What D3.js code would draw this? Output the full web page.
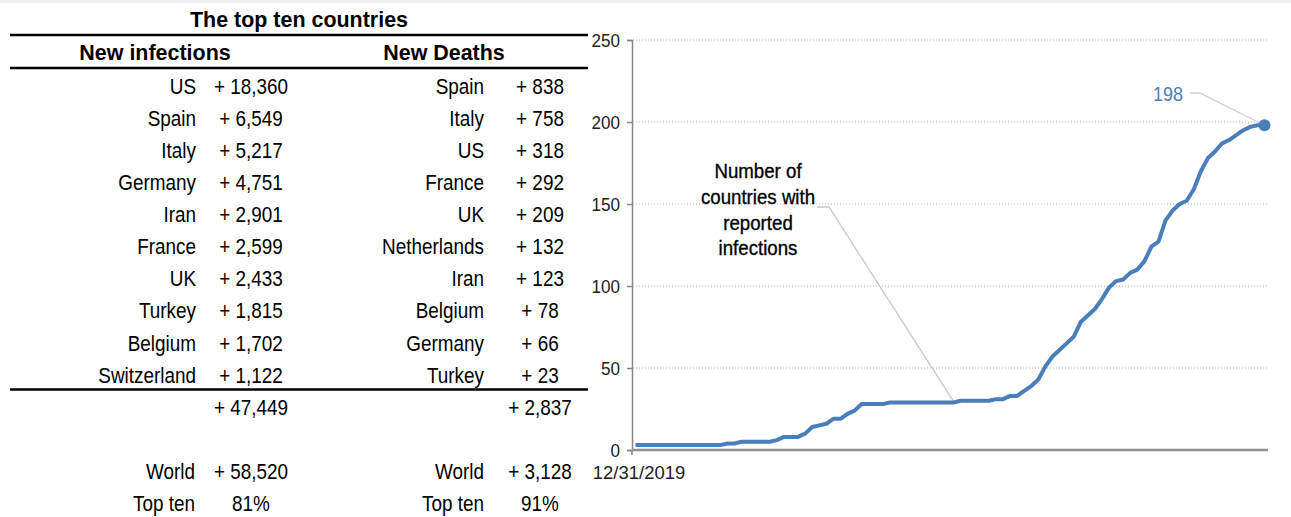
<!DOCTYPE html>
<html>
<head>
<meta charset="utf-8">
<script src="https://cdn.jsdelivr.net/npm/d3@7"></script>
<style>
  body { margin: 0; background: #fff; }
  svg { display: block; font-family: "Liberation Sans", Arial, sans-serif; }
</style>
</head>
<body>
<script>
// top ten countries, new infections
var infCountries = ["US", "Spain", "Italy", "Germany", "Iran", "France", "UK", "Turkey", "Belgium", "Switzerland"];
var infValues = [18360, 6549, 5217, 4751, 2901, 2599, 2433, 1815, 1702, 1122];
var infWorld = 58520;

// top ten countries, new deaths
var deathCountries = ["Spain", "Italy", "US", "France", "UK", "Netherlands", "Iran", "Belgium", "Germany", "Turkey"];
var deathValues = [838, 758, 318, 292, 209, 132, 123, 78, 66, 23];
var deathWorld = 3128;

// number of countries with reported infections, daily from 12/31/2019
var startDate = "12/31/2019";
var countries = [3, 3, 3, 3, 3, 3, 3, 3, 3, 3, 3, 3, 3, 4, 4, 5, 5, 5, 5, 5,
  6, 8, 8, 8, 10, 14, 15, 16, 19, 19, 22, 24, 28, 28, 28, 28, 29, 29, 29, 29,
  29, 29, 29, 29, 29, 29, 30, 30, 30, 30, 30, 31, 31, 33, 33, 36, 39, 43, 51, 57,
  61, 65, 69, 78, 82, 86, 92, 99, 103, 104, 108, 110, 115, 124, 127, 140, 146, 150, 152, 159,
  170, 178, 182, 187, 189, 192, 195, 197, 198, 198];
var yTicks = [0, 50, 100, 150, 200, 250];

var W = 1291, H = 517;
var blue = "#4a7ebb";
var NARROW = 0.86; // squeeze to look like Arial Narrow

var svg = d3.select("body").append("svg")
    .attr("width", W).attr("height", H);

// thin grey strip on top
svg.append("rect").attr("x", 0).attr("y", 0).attr("width", W).attr("height", 3).attr("fill", "#efefef");

// text helper: squeezed horizontally around its anchor point
function label(parent, str, x, y, anchor, size, sx, bold) {
    return parent.append("text").text(str)
        .attr("transform", "translate(" + x + "," + y + ") scale(" + sx + ",1)")
        .attr("dy", "0.35em")
        .attr("text-anchor", anchor)
        .attr("font-size", size)
        .attr("font-weight", bold ? "bold" : null);
}

//---------------- table ----------------
var fmt = d3.format(",");
function plus(v) { return "+ " + fmt(v); }

var tbl = svg.append("g").attr("fill", "#000");

label(tbl, "The top ten countries", 299, 19, "middle", 22, 0.975, true);
label(tbl, "New infections", 155, 52, "middle", 22, 0.975, true);
label(tbl, "New Deaths", 444, 52, "middle", 22, 0.975, true);

[35, 68, 389.5].forEach(function(y) {
    tbl.append("line").attr("x1", 10).attr("x2", 588).attr("y1", y).attr("y2", y)
        .attr("stroke", "#000").attr("stroke-width", 2.5);
});

var rowY = d3.scaleLinear().domain([0, 9]).range([86, 375]);

function column(names, values, nameX, valX) {
    names.forEach(function(n, i) {
        label(tbl, n, nameX, rowY(i), "end", 22, NARROW);
        label(tbl, plus(values[i]), valX, rowY(i), "middle", 22, NARROW);
    });
}
column(infCountries, infValues, 196, 251);
column(deathCountries, deathValues, 484, 540);

function footer(total, world, nameX, valX) {
    label(tbl, plus(total), valX, 407, "middle", 22, NARROW);
    label(tbl, "World", nameX, 471, "end", 22, NARROW);
    label(tbl, plus(world), valX, 471, "middle", 22, NARROW);
    label(tbl, "Top ten", nameX, 503, "end", 22, NARROW);
    label(tbl, d3.format(".0%")(total / world), valX, 503, "middle", 22, NARROW);
}
footer(d3.sum(infValues), infWorld, 195, 251);
footer(d3.sum(deathValues), deathWorld, 484, 540);

//---------------- line chart ----------------
var days = countries.map(function(d, i) { return i; });

var x = d3.scalePoint().domain(days).range([632, 1268]).padding(0.5);
var y = d3.scaleLinear().domain([0, 250]).range([450, 40]);

// dotted gridlines
svg.append("g").selectAll("line").data(yTicks.slice(1)).enter().append("line")
    .attr("x1", 633).attr("x2", 1268)
    .attr("y1", function(d) { return y(d); }).attr("y2", function(d) { return y(d); })
    .attr("stroke", "#b0b0b0").attr("stroke-width", 1).attr("stroke-dasharray", "1,2");

// y axis
var yAxis = svg.append("g").attr("transform", "translate(632,0)")
    .call(d3.axisLeft(y).tickValues(yTicks).tickSize(5).tickPadding(0));
yAxis.selectAll("line, path").attr("stroke", "#868686").attr("stroke-width", 1.5);
yAxis.selectAll("text")
    .attr("x", null)
    .attr("transform", "translate(-12,0) scale(0.9,1)")
    .attr("font-size", 19).attr("fill", "#222").attr("font-family", null);
svg.append("line").attr("x1", 632).attr("x2", 632).attr("y1", 450).attr("y2", 455)
    .attr("stroke", "#868686").attr("stroke-width", 1.5);

// x axis
var xAxis = svg.append("g").attr("transform", "translate(0,450)")
    .call(d3.axisBottom(x).tickValues([0]).tickSize(0).tickPadding(16)
        .tickFormat(function() { return startDate; }));
xAxis.select("path").attr("stroke", "#909090").attr("stroke-width", 2.5)
    .attr("d", "M632,0H1268");
xAxis.selectAll("text").attr("font-size", 18.5).attr("fill", "#222").attr("font-family", null)
    .attr("transform", "translate(3,0)");

// annotation leader
var mid = 45;
svg.append("polyline")
    .attr("points", [[817, 207], [829, 207], [x(mid), y(countries[mid]) - 1]].join(" "))
    .attr("fill", "none").attr("stroke", "#c8c8c8").attr("stroke-width", 1.3);

// line
var line = d3.line().x(function(d, i) { return x(i); }).y(function(d) { return y(d); });
svg.append("path").datum(countries).attr("d", line)
    .attr("fill", "none").attr("stroke", blue).attr("stroke-width", 4).attr("stroke-linejoin", "round");

// last point and label
var last = countries.length - 1;
svg.append("polyline")
    .attr("points", [[1190, 93], [1200, 93], [x(last), y(countries[last])]].join(" "))
    .attr("fill", "none").attr("stroke", "#d0d0d0").attr("stroke-width", 1.3);
svg.append("circle").attr("cx", x(last)).attr("cy", y(countries[last])).attr("r", 6).attr("fill", blue);
label(svg, countries[last], 1183, 94, "end", 20, 0.9).attr("fill", blue);

// annotation text
var note = ["Number of", "countries with", "reported", "infections"];
var noteG = svg.append("g").attr("fill", "#000").attr("stroke", "#000").attr("stroke-width", 0.35);
note.forEach(function(t, i) {
    label(noteG, t, 758, 171 + i * 25.7, "middle", 21, 0.89);
});
</script>
</body>
</html>
